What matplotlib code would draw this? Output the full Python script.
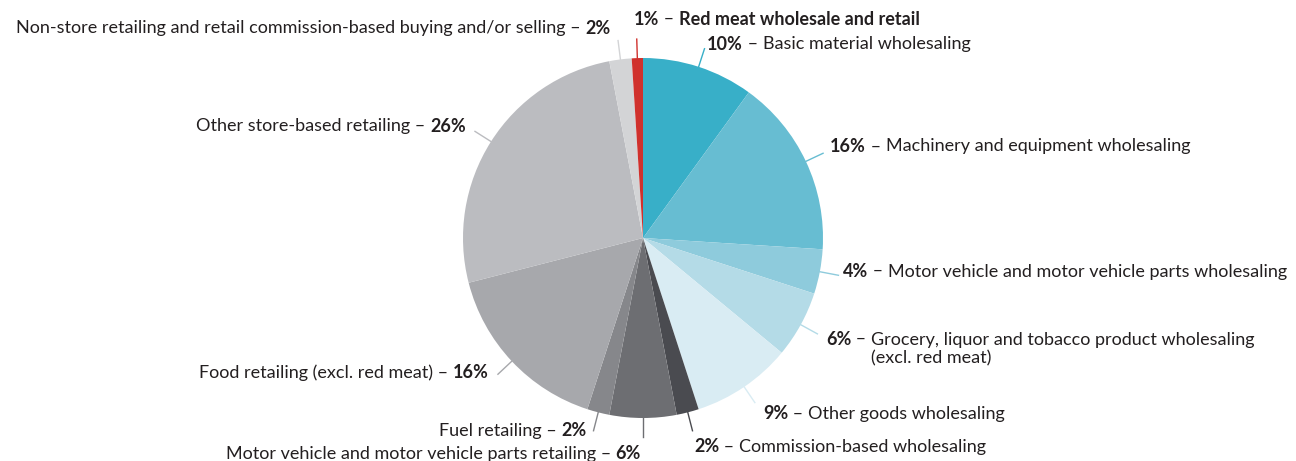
import numpy as np
import matplotlib
matplotlib.use("Agg")
import matplotlib.pyplot as plt

plt.rcParams["font.family"] = ["Lato", "DejaVu Sans"]

# shares, clockwise from 12 o'clock
labels = [
    "Basic material wholesaling",
    "Machinery and equipment wholesaling",
    "Motor vehicle and motor vehicle parts wholesaling",
    "Grocery, liquor and tobacco product wholesaling\n(excl. red meat)",
    "Other goods wholesaling",
    "Commission-based wholesaling",
    "Motor vehicle and motor vehicle parts retailing",
    "Fuel retailing",
    "Food retailing (excl. red meat)",
    "Other store-based retailing",
    "Non-store retailing and retail commission-based buying and/or selling",
    "Red meat wholesale and retail",
]
shares = [10, 16, 4, 6, 9, 2, 6, 2, 16, 26, 2, 1]

colors = [
    "#38afc8", "#67bdd2", "#8ecbdc", "#b4dbe7", "#d9ecf3",
    "#4a4b50", "#6d6e72", "#86878b", "#a7a8ac", "#bbbcc0",
    "#d3d4d6", "#d0312d",
]

W, H = 1296, 461
fig = plt.figure(figsize=(W / 100, H / 100), dpi=100)
ax = fig.add_axes([0, 0, 1, 1])

cx, cy, r = 643, H - 238, 180
wedges, _ = ax.pie(
    shares,
    colors=colors,
    startangle=90,
    counterclock=False,
    center=(cx, cy),
    radius=r,
    wedgeprops=dict(linewidth=0),
)
ax.set_xlim(0, W)
ax.set_ylim(0, H)
ax.set_aspect("equal")
ax.axis("off")

# label anchor (pixel x, pixel y from top) and alignment
label_pos = [
    (707, 43, "left"),
    (830, 145, "left"),
    (843, 270, "left"),
    (826, 338, "left"),
    (763, 412, "left"),
    (694, 445, "left"),
    (641, 452, "right"),
    (587, 429, "right"),
    (489, 371, "right"),
    (466, 125, "right"),
    (611, 27, "right"),
    (634, 18, "left"),
]

txt_color = "#231f20"
fs = 13
renderer = fig.canvas.get_renderer()


def put(x, y, s, weight, ha):
    t = ax.text(x, y, s, fontsize=fs, fontweight=weight, color=txt_color,
                ha=ha, va="center_baseline")
    return t.get_window_extent(renderer).width


for i, (w, name, val) in enumerate(zip(wedges, labels, shares)):
    # leader line in slice colour
    ang = np.deg2rad((w.theta1 + w.theta2) / 2)
    x0, y0 = cx + r * np.cos(ang), cy + r * np.sin(ang)
    x1, y1 = cx + (r + 19) * np.cos(ang), cy + (r + 19) * np.sin(ang)
    ax.plot([x0, x1], [y0, y1], color=colors[i], lw=1)

    px, py, side = label_pos[i]
    py = H - py
    pct = f"{val}%"
    lines = name.split("\n")
    name_weight = "bold" if i == len(shares) - 1 else "normal"
    if side == "left":
        dx = put(px, py, pct, "bold", "left")
        dx2 = put(px + dx, py, " – ", "normal", "left")
        put(px + dx + dx2, py, lines[0], name_weight, "left")
        if len(lines) > 1:
            put(px + dx + dx2, py - 19, lines[1], name_weight, "left")
    else:
        dx = put(px, py, pct, "bold", "right")
        put(px - dx, py, lines[0] + " – ", name_weight, "right")

fig.savefig("out.png", dpi=100)
